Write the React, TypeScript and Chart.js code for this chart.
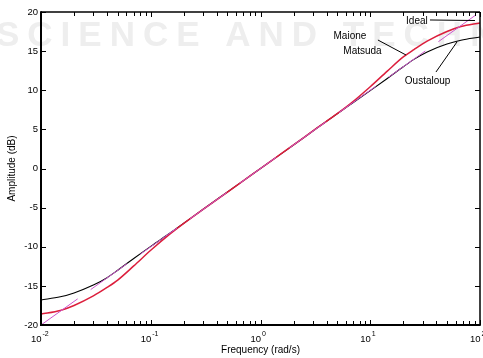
import React, { useEffect, useRef } from 'react';
import { Chart, registerables } from 'chart.js';

Chart.register(...registerables);

const FONT = 'Liberation Sans, Arial, Helvetica, sans-serif';

// Frequency samples (rad/s)
const frequencies = [0.01, 0.015, 0.02, 0.03, 0.04, 0.05, 0.07, 0.1, 0.15, 0.2, 0.3, 0.5, 0.7, 1, 1.43, 2, 3.3, 5, 6.7, 10, 14.3, 20, 25, 33, 50, 67, 100];
// Amplitude (dB) per method
const matsudaAmp = [-18.6, -18.14, -17.5, -16.28, -15.2, -14.26, -12.45, -10.45, -8.36, -7.01, -5.22, -3.01, -1.55, 0, 1.55, 3.01, 5.22, 7.01, 8.36, 10.45, 12.45, 14.26, 15.2, 16.28, 17.5, 18.14, 18.6];
const oustaloupAmp = [-16.8, -16.4, -15.9, -14.9, -13.95, -13.0, -11.5, -9.95, -8.25, -7.0, -5.2, -3.0, -1.55, 0, 1.55, 3.0, 5.2, 7.0, 8.25, 9.95, 11.5, 13.0, 13.95, 14.9, 15.9, 16.4, 16.8];
const idealFreq = [0.01, 100];
const idealAmp = [-20, 20];

// Axis ticks
const yTicks = [-20, -15, -10, -5, 0, 5, 10, 15, 20];
const xTickValues = [
  0.01, 0.02, 0.03, 0.04, 0.05, 0.06, 0.07, 0.08, 0.09,
  0.1, 0.2, 0.3, 0.4, 0.5, 0.6, 0.7, 0.8, 0.9,
  1, 2, 3, 4, 5, 6, 7, 8, 9,
  10, 20, 30, 40, 50, 60, 70, 80, 90,
  100,
];
const xMajor = [0.01, 0.1, 1, 10, 100];
const xExponents = ['-2', '-1', '0', '1', '2'];

// Annotation labels (anchored in data units)
const labelTexts = ['Ideal', 'Maione', 'Matsuda', 'Oustaloup'];
const labelFreq = [21.2, 6.53, 8.5, 33.3];
const labelAmp = [18.85, 16.93, 14.95, 11.18];
const labelAlign = ['left', 'center', 'center', 'center'];
const leaderFrom = [[35, 18.98], [11.75, 16.42], [39.7, 12.33]];
const leaderTo = [[90, 18.91], [21.2, 14.5], [61.7, 16.17]];

const toPoints = (xs: number[], ys: number[]) => xs.map((x, i) => ({ x, y: ys[i] }));

const framePlugin = {
  id: 'frame',
  beforeDraw(chart: any) {
    const { ctx } = chart;
    ctx.save();
    ctx.fillStyle = '#eeeeee';
    ctx.font = `bold 35px ${FONT}`;
    try { (ctx as any).letterSpacing = '8px'; } catch (e) {}
    ctx.textBaseline = 'alphabetic';
    ctx.textAlign = 'left';
    ctx.fillText('SCIENCE AND TECHNOLOGY', -4, 46);
    ctx.restore();
  },
  afterDatasetsDraw(chart: any) {
    const { ctx, chartArea, scales } = chart;
    const { left, right, top, bottom } = chartArea;
    const x = scales.x;
    const y = scales.y;
    ctx.save();
    ctx.strokeStyle = '#000';
    ctx.fillStyle = '#000';
    ctx.lineWidth = 1;
    const seg = (x1: number, y1: number, x2: number, y2: number) => {
      ctx.beginPath();
      ctx.moveTo(x1, y1);
      ctx.lineTo(x2, y2);
      ctx.stroke();
    };
    x.ticks.forEach((t: any) => {
      const px = Math.round(x.getPixelForValue(t.value)) + 0.5;
      const major = xMajor.includes(t.value);
      const len = major ? 5 : 4;
      seg(px, bottom, px, bottom - len);
      seg(px, top, px, top + len);
    });
    y.ticks.forEach((t: any) => {
      const py = Math.round(y.getPixelForValue(t.value)) + 0.5;
      seg(left, py, left + 5, py);
      seg(right, py, right - 5, py);
    });
    // frame
    ctx.lineWidth = 1.5;
    seg(left, top, right, top);
    seg(right, top, right, bottom);
    ctx.lineWidth = 2;
    seg(left, top - 0.75, left, bottom + 1);
    seg(left - 1, bottom, right + 0.75, bottom);

    // x tick labels with superscripts
    xMajor.forEach((v, i) => {
      const px = x.getPixelForValue(v);
      ctx.font = `9.5px ${FONT}`;
      ctx.textAlign = 'right';
      ctx.textBaseline = 'alphabetic';
      ctx.fillText('10', px + 0.5, bottom + 17);
      ctx.font = `7px ${FONT}`;
      ctx.textAlign = 'left';
      ctx.fillText(xExponents[i], px + 1.5, bottom + 11);
    });

    // annotations
    ctx.font = `10px ${FONT}`;
    ctx.textBaseline = 'middle';
    labelTexts.forEach((txt, i) => {
      ctx.textAlign = labelAlign[i];
      ctx.fillText(txt, x.getPixelForValue(labelFreq[i]), y.getPixelForValue(labelAmp[i]));
    });
    ctx.lineWidth = 1;
    leaderFrom.forEach((p, i) => {
      const q = leaderTo[i];
      seg(x.getPixelForValue(p[0]), y.getPixelForValue(p[1]), x.getPixelForValue(q[0]), y.getPixelForValue(q[1]));
    });
    ctx.restore();
  },
};

export default function App() {
  const ref = useRef<HTMLCanvasElement | null>(null);
  useEffect(() => {
    if (!ref.current) return;
    const chart = new Chart(ref.current, {
      type: 'line',
      data: {
        datasets: [
          {
            label: 'Ideal',
            data: toPoints(idealFreq, idealAmp),
            borderColor: '#cc55cc',
            borderWidth: 1,
            borderDash: [45, 16],
            pointRadius: 0,
            fill: false,
          },
          {
            label: 'Maione / Matsuda',
            data: toPoints(frequencies, matsudaAmp),
            borderColor: '#dc1e3c',
            borderWidth: 1.5,
            pointRadius: 0,
            cubicInterpolationMode: 'monotone',
            fill: false,
          },
          {
            label: 'Oustaloup',
            data: toPoints(frequencies, oustaloupAmp),
            borderColor: '#000000',
            borderWidth: 1.1,
            pointRadius: 0,
            cubicInterpolationMode: 'monotone',
            fill: false,
          },
        ],
      },
      options: {
        animation: false,
        responsive: false,
        devicePixelRatio: 1,
        layout: { padding: { left: 0, right: 3, top: 12, bottom: 0 } },
        plugins: { legend: { display: false }, tooltip: { enabled: false } },
        scales: {
          x: {
            type: 'logarithmic',
            min: 0.01,
            max: 100,
            grid: { display: false, drawTicks: false },
            border: { display: false },
            ticks: { display: false },
            afterBuildTicks: (s: any) => {
              s.ticks = xTickValues.map((value) => ({ value }));
            },
            afterFit: (s: any) => {
              s.height = 33;
            },
            title: {
              display: true,
              text: 'Frequency (rad/s)',
              color: '#000',
              font: { family: FONT, size: 10 },
              padding: { top: 0, bottom: 2 },
            },
          },
          y: {
            type: 'linear',
            min: -20,
            max: 20,
            grid: { display: false, drawTicks: false },
            border: { display: false },
            afterBuildTicks: (s: any) => {
              s.ticks = yTicks.map((value) => ({ value }));
            },
            ticks: {
              color: '#000',
              padding: 3,
              font: { family: FONT, size: 9.5 },
            },
            afterFit: (s: any) => {
              s.width = 41;
            },
            title: {
              display: true,
              text: 'Amplitude (dB)',
              color: '#000',
              font: { family: FONT, size: 10 },
              padding: { top: 6, bottom: 0 },
            },
          },
        },
      },
      plugins: [framePlugin],
    } as any);
    return () => chart.destroy();
  }, []);
  return (
    <div style={{ position: 'fixed', left: 0, top: 0, width: 483, height: 358, background: '#fff' }}>
      <canvas ref={ref} width={483} height={358} style={{ display: 'block' }} />
    </div>
  );
}
